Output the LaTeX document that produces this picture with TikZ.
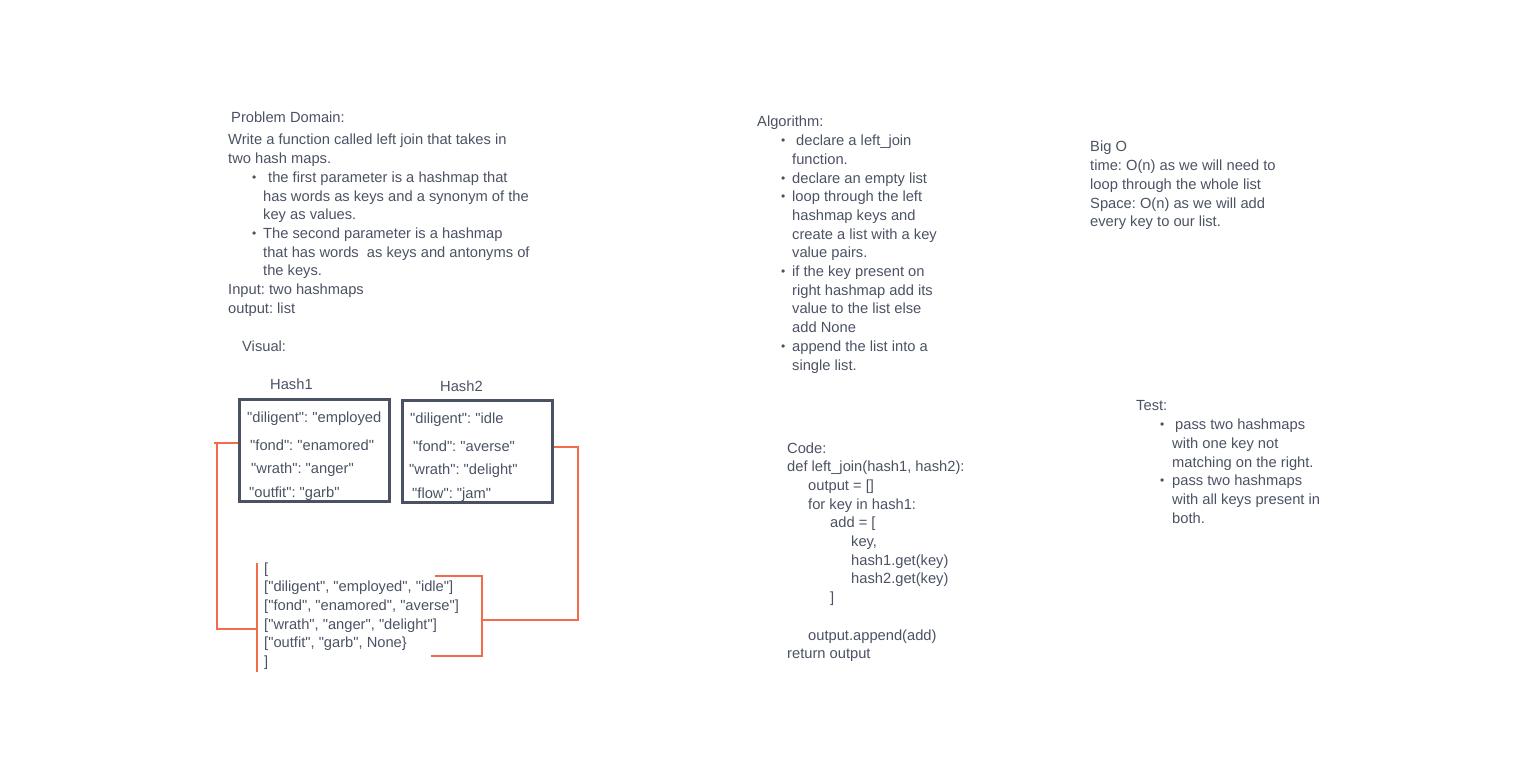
\documentclass[tikz,border=0pt]{standalone}
\usepackage{fontspec}
\setmainfont{Liberation Sans}[Ligatures=TeXOff]
\usetikzlibrary{positioning}
\definecolor{ink}{HTML}{4B5263}
\definecolor{frame}{HTML}{4A5163}
\definecolor{wire}{HTML}{F26B4A}
\frenchspacing
\tikzstyle{txt} = [inner sep=0pt, anchor=north west, align=left, text=ink, font=\fontsize{14.7}{18.7}\selectfont]
\tikzstyle{hbox} = [draw=frame, line width=3pt, minimum width=150pt, minimum height=102pt, inner sep=0pt]
\tikzstyle{link} = [wire, line width=1.3pt]
% bullet: #1 = space before the dot, #2 = where the text starts
\newcommand{\bt}[2]{\makebox[#2pt][l]{\hspace{#1pt}\raisebox{0.8pt}{\fontsize{12}{12}\selectfont\textbullet}}}

\begin{document}
\begin{tikzpicture}[x=1pt,y=-1pt]
\useasboundingbox (0,0) rectangle (1532,780);

% problem domain
\node[txt](pdt)at(231,109.7){\strut Problem Domain:};
\node[txt](pd)at(228,131.7){\strut Write a function called left join that takes in\\
two hash maps.\\
\bt{24}{40}the first parameter is a hashmap that\\
\hspace*{35pt}has words as keys and a synonym of the\\
\hspace*{35pt}key as values.\\
\bt{24}{35}The second parameter is a hashmap\\
\hspace*{35pt}that has words\ \ as keys and antonyms of\\
\hspace*{35pt}the keys.\\
Input: two hashmaps\\
output: list};
\node[txt](vis)at(242,338.7){\strut Visual:};

% the two hash maps
\node[txt](t1)at(270,376.7){\strut Hash1};
\node[txt](t2)at(440,378.7){\strut Hash2};
\node[hbox](h1)at(314.5,450.5){};
\node[hbox](h2)at(477.5,451.5){};
\node[txt](k1)at(247,409.7){\strut "diligent": "employed\\[9.3pt]
\hspace*{3pt}"fond": "enamored"\\[4.3pt]
\hspace*{4pt}"wrath": "anger"\\[5.3pt]
\hspace*{2pt}"outfit": "garb"};
\node[txt](k2)at(409,410.7){\strut \hspace*{1pt}"diligent": "idle\\[9.3pt]
\hspace*{4pt}"fond": "averse"\\[4.3pt]
"wrath": "delight"\\[5.3pt]
\hspace*{3pt}"flow": "jam"};

% joined result
\node[txt](res)at(264,559.7){\strut {[}\\
{[}"diligent", "employed", "idle"]\\
{[}"fond", "enamored", "averse"]\\
{[}"wrath", "anger", "delight"]\\
{[}"outfit", "garb", None\}\\
]};

\coordinate(lt)at(257,563);
\coordinate(lb)at(257,672);
\coordinate(lm)at(257,629);
\coordinate(ra)at(435,576);
\coordinate(rb)at(431,656);
\coordinate(rm)at(481,620);

\draw[link](lt)--(lb);
\draw[link](ra)-|(482,616)|-(rb);
\draw[link]([yshift=7.5pt]h1.west)--++(-24,0);
\draw[link]([yshift=7.5pt,xshift=-21pt]h1.west)|-(lm);
\draw[link]([yshift=4.5pt]h2.east)-|++(24,171)|-(rm);

% algorithm
\node[txt](alg)at(757,113.7){\strut Algorithm:\\
\bt{24}{39}declare a left\_join\\
\hspace*{35pt}function.\\
\bt{24}{35}declare an empty list\\
\bt{24}{35}loop through the left\\
\hspace*{35pt}hashmap keys and\\
\hspace*{35pt}create a list with a key\\
\hspace*{35pt}value pairs.\\
\bt{24}{35}if the key present on\\
\hspace*{35pt}right hashmap add its\\
\hspace*{35pt}value to the list else\\
\hspace*{35pt}add None\\
\bt{24}{35}append the list into a\\
\hspace*{35pt}single list.};

% code
\node[txt](code)at(787,439.7){\strut Code:\\
def left\_join(hash1, hash2):\\
\hspace*{21pt}output = []\\
\hspace*{21pt}for key in hash1:\\
\hspace*{43pt}add = [\\
\hspace*{64pt}key,\\
\hspace*{64pt}hash1.get(key)\\
\hspace*{64pt}hash2.get(key)\\
\hspace*{43pt}]\\[18.7pt]
\hspace*{21pt}output.append(add)\\
return output};

% big o
\node[txt](big)at(1090,138.7){\strut Big O\\
time: O(n) as we will need to\\
loop through the whole list\\
Space: O(n) as we will add\\
every key to our list.};

% tests
\node[txt](tst)at(1136,397.7){\strut Test:\\
\bt{24}{39}pass two hashmaps\\
\hspace*{36pt}with one key not\\
\hspace*{36pt}matching on the right.\\
\bt{24}{36}pass two hashmaps\\
\hspace*{36pt}with all keys present in\\
\hspace*{36pt}both.};

\end{tikzpicture}
\end{document}
